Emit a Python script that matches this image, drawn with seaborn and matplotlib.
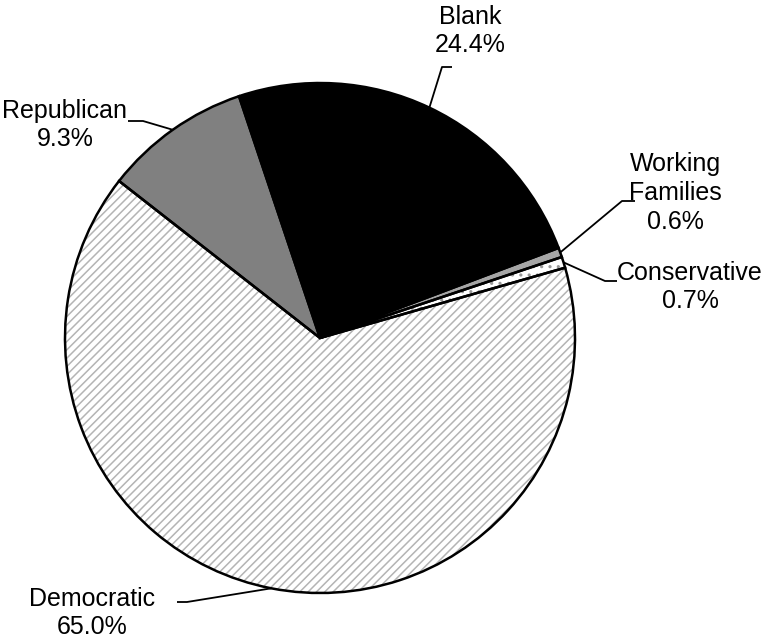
import numpy as np
import seaborn as sns
import matplotlib.pyplot as plt

# party registration shares (%), counter-clockwise from the right
parties = ['Conservative', 'Working\nFamilies', 'Blank', 'Republican', 'Democratic']
shares = [0.7, 0.6, 24.4, 9.3, 65.0]
fills = ['white', '#a6a6a6', 'black', '#808080', 'white']
hatches = ['..', None, None, None, '////']
hatch_colors = ['#9a9a9a', None, None, None, '#b4b4b4']

sns.set_theme(style='white')
plt.rcParams['font.family'] = ['Liberation Sans', 'DejaVu Sans']
plt.rcParams['hatch.linewidth'] = 1.1

W, H = 762, 641
fig = plt.figure(figsize=(W / 100, H / 100), dpi=100)
ax = fig.add_axes([0, 0, 1, 1])

cx, cy, r = 320, H - 338, 255
start = 16.0

# hatched fills first, then the black outlines on top
wedges, _ = ax.pie(shares, colors=fills, startangle=start, counterclock=True,
                   radius=r, center=(cx, cy), wedgeprops=dict(linewidth=0))
for w, h, hc in zip(wedges, hatches, hatch_colors):
    if h:
        w.set_hatch(h)
        w.set_edgecolor(hc)
ax.pie(shares, colors=['none'] * len(shares), startangle=start, counterclock=True,
       radius=r, center=(cx, cy),
       wedgeprops=dict(linewidth=1.8, edgecolor='black', fill=False))

# label block centres and leader elbows (pixel coords, y down)
label_pos = {
    'Conservative': (690, 287), 'Working\nFamilies': (675, 193), 'Blank': (470, 31),
    'Republican': (65, 125), 'Democratic': (92, 613),
}
elbows = {
    'Conservative': [(605, 281), (617, 281)], 'Working\nFamilies': [(622, 201), (635, 201)],
    'Blank': [(442, 67), (452, 67)], 'Republican': [(143, 121), (128, 121)],
    'Democratic': [(187, 602), (177, 602)],
}

angles = start + np.cumsum([0] + shares[:-1]) * 3.6 + np.array(shares) * 1.8
for name, pct, ang in zip(parties, shares, angles):
    a = np.deg2rad(ang)
    ex, ey = cx + r * np.cos(a), cy + r * np.sin(a)
    pts = [(ex, ey)] + [(x, H - y) for x, y in elbows[name]]
    ax.plot([p[0] for p in pts], [p[1] for p in pts], color='black', lw=1.3,
            solid_capstyle='butt', zorder=5)
    lx, ly = label_pos[name]
    ax.text(lx, H - ly, f'{name}\n{pct:.1f}%', ha='center', va='center',
            multialignment='center', fontsize=18, linespacing=1.26, color='black')

ax.set_xlim(0, W)
ax.set_ylim(0, H)
ax.set_aspect('equal')
ax.axis('off')

plt.savefig('out.png', dpi=100, facecolor='w')
